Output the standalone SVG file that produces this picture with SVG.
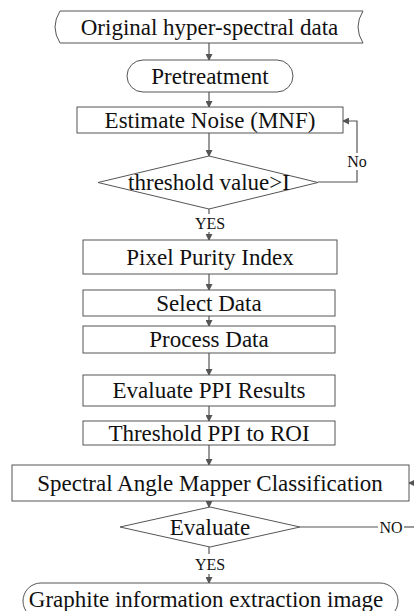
<svg xmlns="http://www.w3.org/2000/svg" width="414" height="611" viewBox="0 0 414 611">
<defs>
<style>
.s{fill:#fff;stroke:#555;stroke-width:1}
.t{font-family:"Liberation Serif","Times New Roman",serif;font-size:23px;fill:#111;text-anchor:middle}
.l{font-family:"Liberation Serif","Times New Roman",serif;font-size:16px;fill:#111;text-anchor:middle}
.c{fill:none;stroke:#555;stroke-width:1.2}
</style>
<marker id="a" markerWidth="7" markerHeight="7" refX="6" refY="3.5" orient="auto" markerUnits="userSpaceOnUse">
<path d="M0,0 L7,3.5 L0,7 Z" fill="#555"/>
</marker>
</defs>
<rect width="414" height="611" fill="#fff"/>
<g id="connectors">
<line class="c" x1="209" y1="43" x2="209" y2="60" marker-end="url(#a)"/>
<line class="c" x1="209" y1="92" x2="209" y2="107" marker-end="url(#a)"/>
<line class="c" x1="209" y1="133" x2="209" y2="156" marker-end="url(#a)"/>
<line class="c" x1="209" y1="209" x2="209" y2="214"/>
<line class="c" x1="209" y1="232" x2="209" y2="240" marker-end="url(#a)"/>
<line class="c" x1="209" y1="274" x2="209" y2="290" marker-end="url(#a)"/>
<line class="c" x1="209" y1="316" x2="209" y2="326" marker-end="url(#a)"/>
<line class="c" x1="209" y1="353" x2="209" y2="375" marker-end="url(#a)"/>
<line class="c" x1="209" y1="406" x2="209" y2="421" marker-end="url(#a)"/>
<line class="c" x1="209" y1="445" x2="209" y2="465" marker-end="url(#a)"/>
<line class="c" x1="209" y1="501" x2="209" y2="507" marker-end="url(#a)"/>
<line class="c" x1="209" y1="547" x2="209" y2="554"/>
<line class="c" x1="209" y1="574" x2="209" y2="583" marker-end="url(#a)"/>
<polyline class="c" points="318,182 357,182 357,170"/>
<polyline class="c" points="357,153 357,121 343,121" marker-end="url(#a)"/>
<line class="c" x1="300" y1="527" x2="378" y2="527"/>
<line class="c" x1="404" y1="527" x2="414" y2="527"/>
<line class="c" x1="416" y1="483" x2="409" y2="483" marker-end="url(#a)"/>
<text class="l" x="357" y="167">No</text>
<text class="l" x="210" y="229">YES</text>
<text class="l" x="210" y="570">YES</text>
<text class="l" x="391" y="533">NO</text>
</g>
<g id="original">
<path class="s" d="M60,11 L363,11 Q353,27 363,43 L60,43 Q50,27 60,11 Z"/>
<text class="t" x="209.5" y="34.5">Original hyper-spectral data</text>
</g>
<g id="pretreatment">
<rect class="s" x="127" y="60" width="166" height="32" rx="16"/>
<text class="t" x="210" y="83.5">Pretreatment</text>
</g>
<g id="mnf">
<rect class="s" x="77" y="107" width="266" height="26"/>
<text class="t" x="210" y="128">Estimate Noise (MNF)</text>
</g>
<g id="threshold">
<polygon class="s" points="209,156 318,182.5 209,209 98,182.5"/>
<text class="t" x="209" y="190">threshold value&gt;I</text>
</g>
<g id="ppi">
<rect class="s" x="83" y="240" width="254" height="34"/>
<text class="t" x="210" y="265">Pixel Purity Index</text>
</g>
<g id="select">
<rect class="s" x="83" y="290" width="252" height="26"/>
<text class="t" x="209" y="311">Select Data</text>
</g>
<g id="process">
<rect class="s" x="83" y="326" width="252" height="27"/>
<text class="t" x="209" y="347">Process Data</text>
</g>
<g id="evalppi">
<rect class="s" x="83" y="375" width="252" height="31"/>
<text class="t" x="209" y="398">Evaluate PPI Results</text>
</g>
<g id="roi">
<rect class="s" x="83" y="421" width="252" height="24"/>
<text class="t" x="209" y="440.5">Threshold PPI to ROI</text>
</g>
<g id="sam">
<rect class="s" x="12" y="465" width="397" height="36"/>
<text class="t" x="210" y="490.5">Spectral Angle Mapper Classification</text>
</g>
<g id="evaluate">
<polygon class="s" points="210,507 300,527 210,547 120,527"/>
<text class="t" x="210" y="535">Evaluate</text>
</g>
<g id="final">
<rect class="s" x="23" y="583" width="375" height="36" rx="18"/>
<text class="t" x="206" y="607">Graphite information extraction image</text>
</g>
</svg>
